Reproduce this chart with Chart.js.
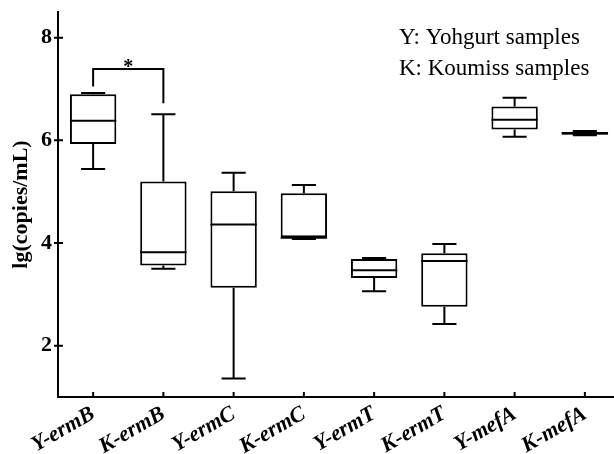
<!DOCTYPE html>
<html>
<head>
<meta charset="utf-8">
<script src="https://cdn.jsdelivr.net/npm/chart.js@4.4.0/dist/chart.umd.min.js"></script>
<style>
  body { margin: 0; background: #fff; overflow: hidden; }
  #wrap { width: 620px; height: 454px; }
</style>
</head>
<body>
<div id="wrap"><canvas id="boxChart"></canvas></div>
<script>
// Box plot values (lg copies/mL)
const genes = ['Y-ermB', 'K-ermB', 'Y-ermC', 'K-ermC', 'Y-ermT', 'K-ermT', 'Y-mefA', 'K-mefA'];
const whiskerMin = [5.44, 3.50, 1.36, 4.08, 3.06, 2.42, 6.07, 6.10];
const q1         = [5.93, 3.56, 3.13, 4.11, 3.32, 2.76, 6.21, 6.11];
const median     = [6.38, 3.82, 4.36, 4.10, 3.47, 3.65, 6.40, 6.14];
const q3         = [6.90, 5.20, 5.01, 4.97, 3.69, 3.80, 6.66, 6.16];
const whiskerMax = [6.92, 6.51, 5.37, 5.13, 3.71, 3.98, 6.83, 6.18];
const yTicks = [2, 4, 6, 8];

// significance bracket between Y-ermB and K-ermB
const sigPair = [0, 1];
const sigEnds = [7.05, 6.72];
const sigTop = 7.39;
const sigLabel = '*';

const noteLines = ['Y: Yohgurt samples', 'K: Koumiss samples'];

const serif = "'Liberation Serif', 'Times New Roman', serif";

// whiskers, medians, inward ticks, bracket and the note text
const boxExtras = {
    id: 'boxExtras',
    afterDatasetsDraw(chart) {
        const ctx = chart.ctx;
        const y = chart.scales.y;
        const x = chart.scales.x;
        const bars = chart.getDatasetMeta(0).data;
        ctx.save();
        ctx.strokeStyle = '#000';
        ctx.lineWidth = 2;
        bars.forEach((bar, i) => {
            const cx = bar.x;
            const half = bar.width / 2;
            const cap = bar.width * 0.26;
            const pMed = y.getPixelForValue(median[i]);
            const pQ1 = y.getPixelForValue(q1[i]);
            const pQ3 = y.getPixelForValue(q3[i]);
            const pMin = y.getPixelForValue(whiskerMin[i]);
            const pMax = y.getPixelForValue(whiskerMax[i]);
            ctx.beginPath();
            ctx.moveTo(cx - half, pMed); ctx.lineTo(cx + half, pMed);
            ctx.moveTo(cx, pQ3); ctx.lineTo(cx, pMax);
            ctx.moveTo(cx - cap, pMax); ctx.lineTo(cx + cap, pMax);
            ctx.moveTo(cx, pQ1); ctx.lineTo(cx, pMin);
            ctx.moveTo(cx - cap, pMin); ctx.lineTo(cx + cap, pMin);
            ctx.stroke();
        });

        // tick marks
        const area = chart.chartArea;
        ctx.beginPath();
        yTicks.forEach(v => {
            const py = y.getPixelForValue(v);
            ctx.moveTo(area.left - 4, py); ctx.lineTo(area.left + 5, py);
        });
        genes.forEach((g, i) => {
            const px = x.getPixelForValue(i);
            ctx.moveTo(px, area.bottom); ctx.lineTo(px, area.bottom - 5);
        });
        ctx.stroke();

        // bracket
        const xa = bars[sigPair[0]].x, xb = bars[sigPair[1]].x;
        const pt = y.getPixelForValue(sigTop);
        ctx.beginPath();
        ctx.moveTo(xa, y.getPixelForValue(sigEnds[0]));
        ctx.lineTo(xa, pt);
        ctx.lineTo(xb, pt);
        ctx.lineTo(xb, y.getPixelForValue(sigEnds[1]));
        ctx.stroke();
        ctx.fillStyle = '#000';
        ctx.font = 'bold 20px ' + serif;
        ctx.textAlign = 'center';
        ctx.textBaseline = 'alphabetic';
        ctx.fillText(sigLabel, (xa + xb) / 2, pt + 4);

        // note text
        ctx.font = '23px ' + serif;
        ctx.textAlign = 'left';
        ctx.textBaseline = 'middle';
        noteLines.forEach((t, i) => ctx.fillText(t, 399, 38 + i * 31));
        ctx.restore();
    }
};

const ctx = document.getElementById('boxChart').getContext('2d');
const boxChart = new Chart(ctx, {
    type: 'bar',
    data: {
        labels: genes,
        datasets: [
            {
                data: q1.map((v, i) => [v, q3[i]]),
                backgroundColor: '#fff',
                borderColor: '#000',
                borderWidth: 2,
                borderSkipped: false,
                categoryPercentage: 1,
                barPercentage: 0.66
            }
        ]
    },
    options: {
        responsive: true,
        maintainAspectRatio: false,
        animation: false,
        layout: { padding: { top: 12, left: 0, right: 0, bottom: 0 } },
        plugins: {
            legend: { display: false },
            tooltip: { enabled: false }
        },
        scales: {
            x: {
                grid: { display: false, drawTicks: false },
                border: { color: '#000', width: 2 },
                ticks: {
                    color: '#000',
                    autoSkip: false,
                    maxRotation: 30,
                    minRotation: 30,
                    padding: 4,
                    font: { family: serif, size: 22, weight: 'bold', style: 'italic' }
                },
                afterFit: s => { s.height = 57; s.paddingLeft = 0; s.paddingRight = 0; }
            },
            y: {
                min: 1,
                max: 8.5,
                grid: { display: false, drawTicks: false },
                border: { color: '#000', width: 2 },
                ticks: {
                    color: '#000',
                    padding: 6,
                    font: { family: serif, size: 22, weight: 'bold' }
                },
                afterBuildTicks: s => { s.ticks = yTicks.map(v => ({ value: v })); },
                title: {
                    display: true,
                    text: 'lg(copies/mL)',
                    color: '#000',
                    padding: { top: 8, bottom: 0 },
                    font: { family: serif, size: 22, weight: 'bold' }
                },
                afterFit: s => { s.width = 58; s.paddingTop = 0; s.paddingBottom = 0; }
            }
        }
    },
    plugins: [boxExtras]
});
</script>
</body>
</html>
